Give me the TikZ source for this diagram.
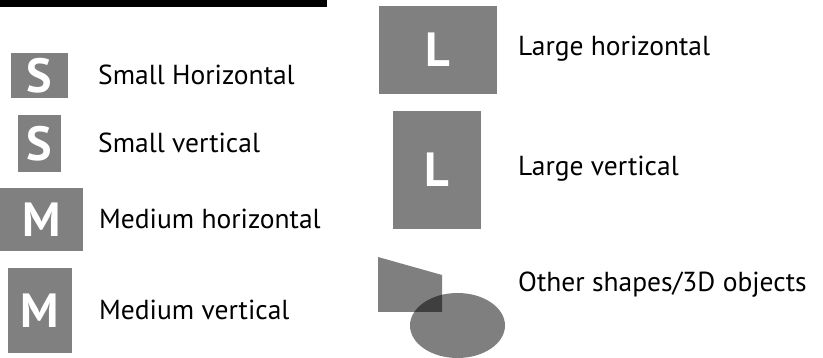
\documentclass[tikz,border=0pt]{standalone}
\usepackage{fontspec}
\setmainfont{PT Sans}
\begin{document}
\begin{tikzpicture}[x=1pt,y=-1pt,
  box/.style={fill=boxgray, draw=none, inner sep=0pt, text=white, font=\fontsize{48}{48}\selectfont\bfseries},
  lbl/.style={anchor=west, inner sep=0pt, font=\fontsize{27.5}{27.5}\selectfont},
  shp/.style={fill=black, fill opacity=0.5, draw=none}]
\definecolor{boxgray}{HTML}{808080}
\useasboundingbox (0,0) rectangle (823,358);
\fill[black] (0,0) rectangle (327,7);
% boxes
\node[box, minimum width=57, minimum height=45] (sh) at (39.5,75.5) {S};
\node[box, minimum width=43, minimum height=57] (sv) at (39.5,143.5) {S};
\node[box, minimum width=83, minimum height=63] (mh) at (41.5,219.5) {M};
\node[box, minimum width=64, minimum height=85] (mv) at (40,310.5) {M};
\node[box, minimum width=118, minimum height=88] (lh) at (438,50) {L};
\node[box, minimum width=88, minimum height=118] (lv) at (437,170) {L};
% labels
\node[lbl] (tsh) at (98,74.5) {Small Horizontal};
\node[lbl] (tsv) at (98,142.5) {Small vertical};
\node[lbl] (tmh) at (99,218.5) {Medium horizontal};
\node[lbl] (tmv) at (99,309.5) {Medium vertical};
\node[lbl] (tlh) at (518,49) {Large horizontal};
\node[lbl] (tlv) at (518,169) {Large vertical};
\node[lbl] (tos) at (518,285) {Other shapes/3D objects};
% other shapes
\path[shp] (378,257) -- (442,275) -- (442,312) -- (378,312) -- cycle;
\path[shp] (457.5,325.5) ellipse [x radius=47.5, y radius=32.5];
\end{tikzpicture}
\end{document}
